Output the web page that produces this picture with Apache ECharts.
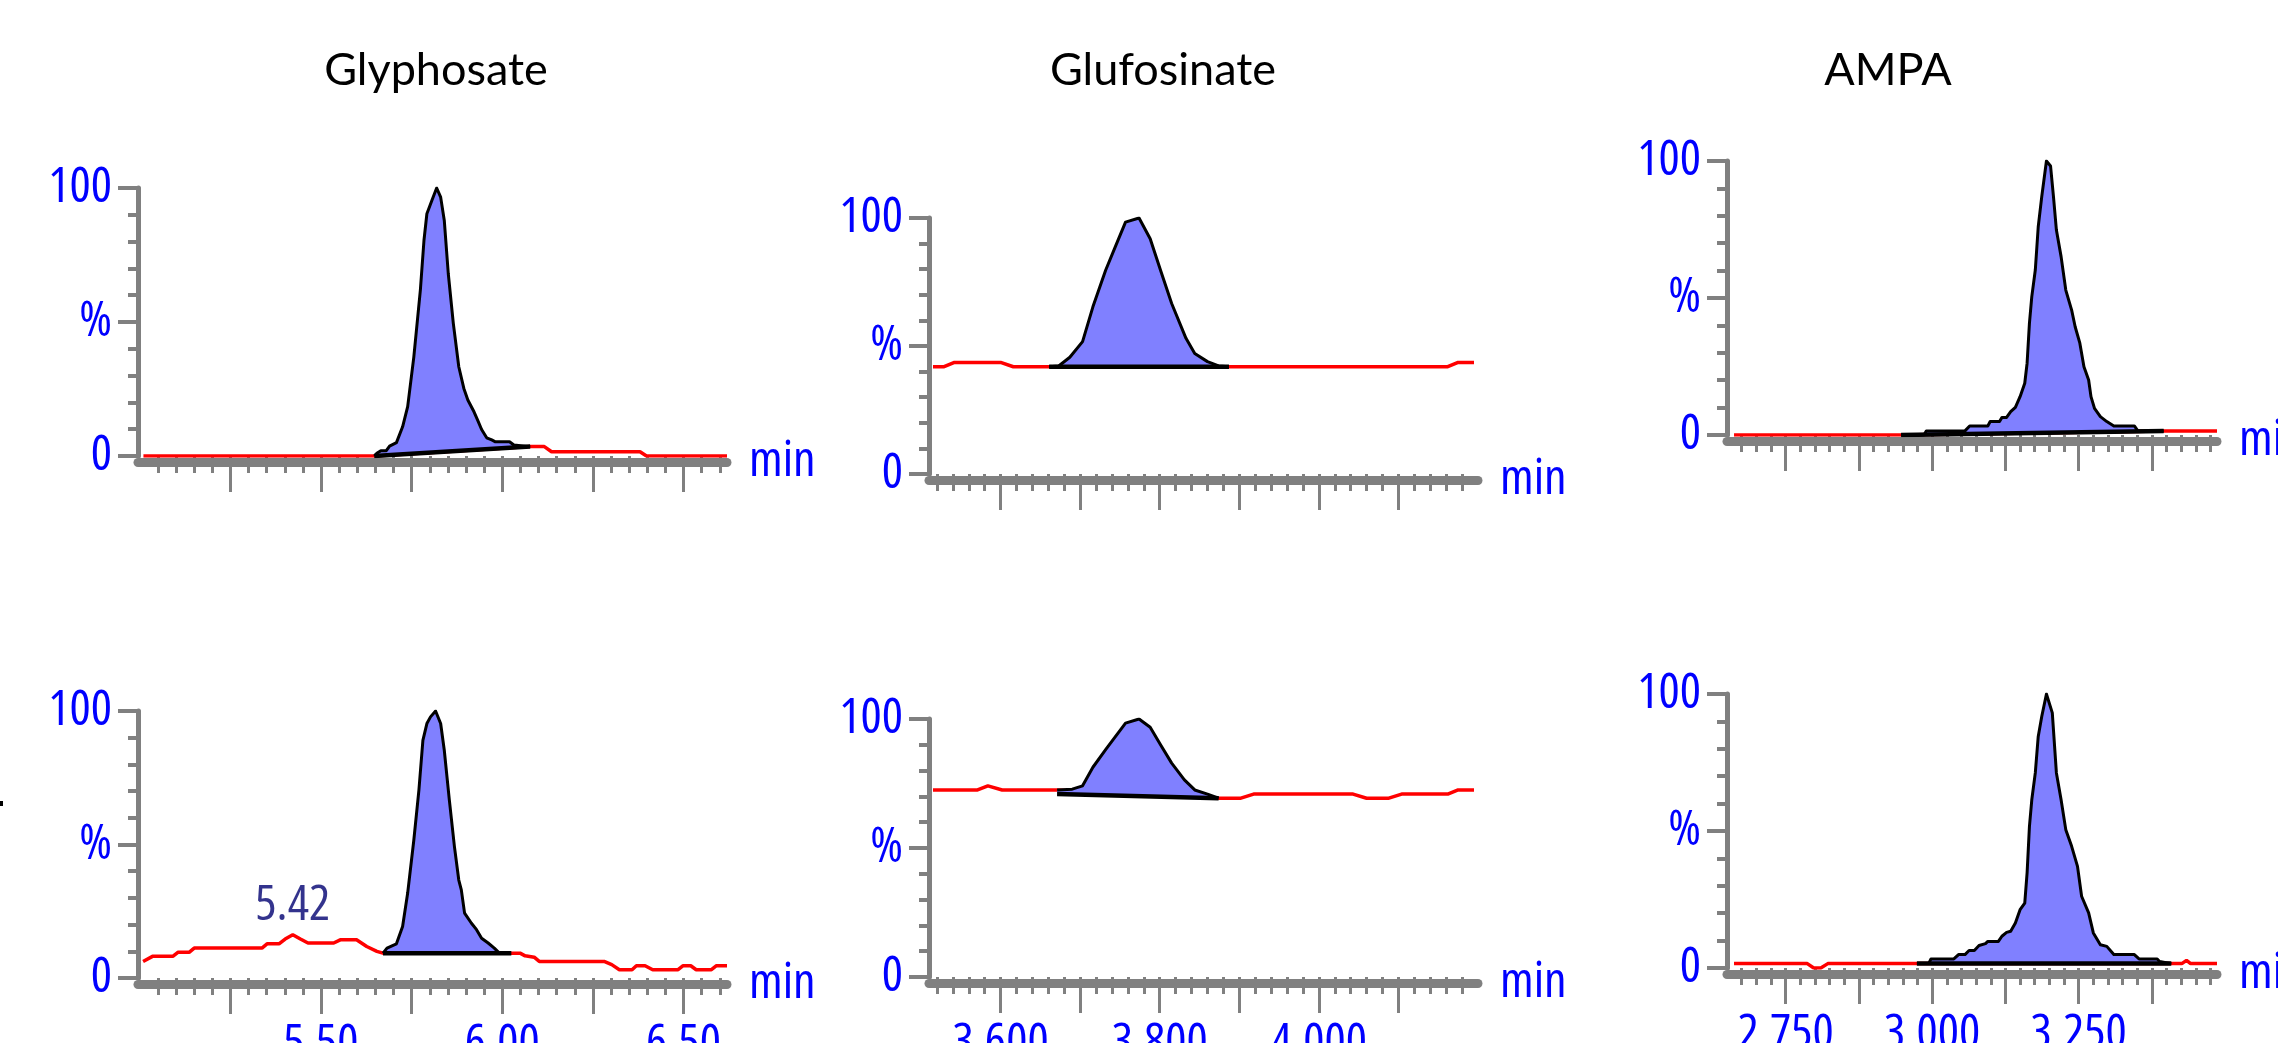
<!DOCTYPE html>
<html>
<head>
<meta charset="utf-8">
<script src="https://cdn.jsdelivr.net/npm/echarts@6/dist/echarts.min.js"></script>
<style>
html, body { margin: 0; padding: 0; background: #fff; }
#chart { width: 2278px; height: 1043px; }
</style>
</head>
<body>
<div id="chart"></div>
<script>
// ---- data (time in min, intensity in %) ----
var titles = ['Glyphosate', 'Glufosinate', 'AMPA'];
var yTickLabels = { 0: '0', 50: '%', 100: '100' };

// Glyphosate
var glyRange = [4.995, 6.62];
var glyMajor = [5.25, 5.5, 5.75, 6.0, 6.25, 6.5];
var glyLabels = [5.5, 6.0, 6.5];
var glyTopTrace = [[5.01, 0], [5.647, 0], [6.077, 3.5], [6.116, 3.5], [6.136, 1.6], [6.380, 1.6], [6.398, 0], [6.62, 0]];
var glyTopPeak = [[5.647, 0], [5.654, 1.0], [5.665, 2.0], [5.680, 2.0], [5.689, 3.7], [5.708, 5.0], [5.725, 10.9], [5.739, 18.4],
  [5.756, 37.0], [5.774, 61.9], [5.784, 80.5], [5.792, 90.4], [5.806, 95.4], [5.819, 100], [5.830, 96.6], [5.840, 87.9],
  [5.851, 68.1], [5.865, 49.4], [5.880, 33.3], [5.894, 25.2], [5.905, 20.9], [5.922, 16.5], [5.932, 13.4], [5.943, 9.9],
  [5.957, 6.8], [5.971, 6.0], [5.981, 5.3], [6.020, 5.3], [6.032, 4.1], [6.077, 3.5]];
var glyTopBase = [[5.647, 0], [6.077, 3.5]];
var glyBotTrace = [[5.009, 6.2], [5.035, 8.1], [5.091, 8.1], [5.105, 9.6], [5.136, 9.6], [5.150, 11.2], [5.337, 11.2], [5.351, 12.8],
  [5.384, 12.8], [5.401, 14.6], [5.422, 16.2], [5.443, 14.6], [5.464, 13.1], [5.535, 13.1], [5.553, 14.3], [5.598, 14.3],
  [5.626, 11.8], [5.654, 10.0], [5.671, 9.3], [6.025, 9.3], [6.049, 9.3], [6.063, 8.3], [6.088, 7.8], [6.102, 6.2],
  [6.281, 6.2], [6.302, 5.0], [6.323, 3.1], [6.358, 3.1], [6.370, 4.6], [6.394, 4.6], [6.415, 3.1], [6.485, 3.1],
  [6.499, 4.6], [6.520, 4.6], [6.535, 3.1], [6.577, 3.1], [6.591, 4.6], [6.62, 4.6]];
var glyBotPeak = [[5.671, 9.3], [5.682, 11.2], [5.708, 12.8], [5.725, 19.3], [5.739, 31.8], [5.756, 51.7], [5.770, 70.4],
  [5.781, 89.0], [5.792, 95.3], [5.802, 97.8], [5.816, 100], [5.830, 95.3], [5.840, 85.3], [5.854, 66.6], [5.868, 49.2],
  [5.880, 36.7], [5.887, 33.0], [5.896, 24.3], [5.915, 20.5], [5.929, 18.1], [5.943, 14.9], [5.961, 13.1], [5.978, 11.2],
  [5.992, 9.3]];
var glyBotBase = [[5.671, 9.3], [6.025, 9.3]];
var glyBotApex = [[5.422, 16.2]];
var glyBotApexLabel = ['5.42'];

// Glufosinate
var gluRange = [3.51, 4.2];
var gluMajor = [3.6, 3.7, 3.8, 3.9, 4.0, 4.1];
var gluLabels = [3.6, 3.8, 4.0];
var gluTopTrace = [[3.515, 41.9], [3.529, 41.9], [3.542, 43.6], [3.600, 43.6], [3.616, 41.9], [3.661, 41.9], [3.887, 41.9],
  [4.162, 41.9], [4.175, 43.6], [4.195, 43.6]];
var gluTopPeak = [[3.661, 41.9], [3.673, 42.2], [3.687, 45.6], [3.703, 51.7], [3.716, 65.3], [3.732, 79.6], [3.745, 89.4],
  [3.757, 98.4], [3.774, 100], [3.788, 91.9], [3.801, 79.6], [3.815, 66.6], [3.833, 53.0], [3.844, 47.1], [3.860, 43.9],
  [3.874, 42.2], [3.887, 41.9]];
var gluTopBase = [[3.661, 41.9], [3.887, 41.9]];
var gluBotTrace = [[3.515, 72.5], [3.571, 72.5], [3.584, 74.1], [3.602, 72.5], [3.671, 72.5], [3.874, 69.3], [3.902, 69.3],
  [3.918, 70.9], [4.043, 70.9], [4.060, 69.3], [4.088, 69.3], [4.104, 70.9], [4.162, 70.9], [4.175, 72.5], [4.195, 72.5]];
var gluBotPeak = [[3.671, 72.5], [3.690, 72.8], [3.703, 74.1], [3.716, 81.3], [3.732, 88.1], [3.757, 98.4], [3.774, 100],
  [3.788, 96.8], [3.801, 90.0], [3.815, 82.9], [3.831, 76.4], [3.844, 72.5], [3.860, 70.9], [3.874, 69.3]];
var gluBotBase = [[3.671, 70.9], [3.874, 69.3]];

// AMPA
var ampaRange = [2.65, 3.486];
var ampaMajor = [2.75, 2.875, 3.0, 3.125, 3.25, 3.375];
var ampaLabels = [2.75, 3.0, 3.25];
var ampaTopTrace = [[2.662, 0], [2.947, 0], [3.395, 1.5], [3.486, 1.5]];
var ampaTopPeak = [[2.947, 0], [2.986, 0], [2.990, 1.5], [3.056, 1.5], [3.064, 3.3], [3.095, 3.3], [3.099, 4.9], [3.115, 4.9],
  [3.119, 6.4], [3.127, 6.4], [3.134, 8.5], [3.142, 10.1], [3.150, 14.0], [3.158, 18.9], [3.162, 26.2], [3.166, 40.8],
  [3.170, 50.5], [3.176, 60.2], [3.181, 76.0], [3.187, 87.0], [3.195, 100], [3.202, 98.2], [3.207, 87.0], [3.212, 74.8],
  [3.220, 65.1], [3.228, 52.9], [3.238, 45.6], [3.244, 39.5], [3.252, 33.5], [3.259, 24.9], [3.267, 20.1], [3.271, 14.0],
  [3.277, 9.7], [3.287, 6.7], [3.298, 4.9], [3.310, 3.3], [3.345, 3.3], [3.351, 1.5], [3.395, 1.5]];
var ampaTopBase = [[2.947, 0], [3.395, 1.5]];
var ampaBotTrace = [[2.662, 1.6], [2.787, 1.6], [2.798, 0], [2.810, 0], [2.822, 1.6], [2.974, 1.6], [3.408, 1.6], [3.426, 1.6],
  [3.434, 2.8], [3.441, 1.6], [3.486, 1.6]];
var ampaBotPeak = [[2.974, 1.6], [2.994, 1.6], [2.998, 3.3], [3.037, 3.3], [3.045, 4.9], [3.056, 4.9], [3.063, 6.4], [3.072, 6.4],
  [3.080, 8.2], [3.091, 8.9], [3.095, 9.7], [3.113, 9.7], [3.119, 11.6], [3.127, 13.0], [3.134, 13.4], [3.142, 16.4],
  [3.150, 21.3], [3.158, 23.7], [3.162, 34.7], [3.166, 51.7], [3.170, 61.4], [3.176, 71.2], [3.181, 84.5], [3.187, 91.8],
  [3.195, 100], [3.205, 93.1], [3.212, 71.2], [3.220, 61.4], [3.228, 50.5], [3.238, 44.4], [3.248, 37.1], [3.255, 26.2],
  [3.267, 20.1], [3.275, 12.8], [3.287, 8.5], [3.298, 7.9], [3.310, 4.9], [3.345, 4.9], [3.353, 3.3], [3.384, 3.3],
  [3.388, 2.4], [3.408, 1.6]];
var ampaBotBase = [[2.974, 1.6], [3.408, 1.6]];

// minor tick positions along the time axis
function ticks(from, to, step) {
  var out = [];
  var n = Math.round((to - from) / step);
  for (var k = 0; k <= n; k++) out.push(+(from + k * step).toFixed(4));
  return out;
}
var glyMinor = ticks(5.05, 6.60, 0.05);
var gluMinor = ticks(3.52, 4.18, 0.02);
var ampaMinor = ticks(2.675, 3.475, 0.025);

// ---- styles ----
// Open Sans is variable; "condensed" in the weight slot ends up in the canvas font string
var NARROW = { fontFamily: '"Open Sans"', fontWeight: 'normal condensed', fontSize: 50 };
var BLUE = '#0000FF';
var GREY = '#808080';

function narrow(extra) {
  var o = { fontFamily: NARROW.fontFamily, fontWeight: NARROW.fontWeight, fontSize: NARROW.fontSize };
  for (var k in extra) o[k] = extra[k];
  return o;
}

var grids = [], xAxes = [], yAxes = [], series = [];

function addPanel(p) {
  var i = grids.length;
  grids.push({ left: p.box[0], top: p.box[1], width: p.box[2], height: p.box[3], outerBoundsMode: 'none', containLabel: false });

  xAxes.push({
    gridIndex: i, type: 'value', min: p.range[0], max: p.range[1], position: 'bottom', offset: 6,
    axisLine: { show: true, onZero: false, lineStyle: { color: GREY, width: 9 } },
    axisTick: { show: true, customValues: p.major, length: 30, lineStyle: { color: GREY, width: 3 } },
    axisLabel: narrow({
      show: p.showLabels, customValues: p.labels, margin: 36, color: BLUE,
      formatter: function (v) { return v.toFixed(p.dec); }
    }),
    splitLine: { show: false },
    name: 'min', nameLocation: 'end', nameGap: 22,
    nameTextStyle: narrow({ color: BLUE, verticalAlign: 'middle', padding: [22, 0, 0, 0] })
  });
  xAxes.push({
    gridIndex: i, type: 'value', min: p.range[0], max: p.range[1], position: 'bottom', offset: 6,
    axisLine: { show: false },
    axisTick: { show: true, customValues: p.minor, length: 17, lineStyle: { color: GREY, width: 3 } },
    axisLabel: { show: false },
    splitLine: { show: false }
  });
  yAxes.push({
    gridIndex: i, type: 'value', min: 0, max: 100, interval: 50, position: 'left',
    axisLine: { show: true, onZero: false, lineStyle: { color: GREY, width: 5 } },
    axisTick: { show: true, length: 20, lineStyle: { color: GREY, width: 4 } },
    minorTick: { show: true, splitNumber: 5, length: 10, lineStyle: { color: GREY, width: 4 } },
    axisLabel: narrow({
      margin: 26, color: BLUE,
      formatter: function (v) { return yTickLabels[v]; }
    }),
    splitLine: { show: false }
  });

  var xi = 2 * i;
  series.push({
    type: 'line', xAxisIndex: xi, yAxisIndex: i, data: p.trace, symbol: 'none', z: 2,
    lineStyle: { color: '#FF0000', width: 3.5 }
  });
  var poly = p.peak.concat([p.base[1], p.base[0]]);
  series.push({
    type: 'custom', xAxisIndex: xi, yAxisIndex: i, data: poly, z: 3,
    renderItem: function (params, api) {
      if (params.dataIndex !== 0) return null;
      return {
        type: 'polygon',
        shape: { points: poly.map(function (pt) { return api.coord(pt); }) },
        style: { fill: '#8080FF' }
      };
    }
  });
  series.push({
    type: 'line', xAxisIndex: xi, yAxisIndex: i, data: p.peak, symbol: 'none', z: 4,
    lineStyle: { color: '#000', width: 3, join: 'round' }
  });
  series.push({
    type: 'line', xAxisIndex: xi, yAxisIndex: i, data: p.base, symbol: 'none', z: 5,
    lineStyle: { color: '#000', width: 4.5 }
  });
  if (p.apex) {
    series.push({
      type: 'scatter', xAxisIndex: xi, yAxisIndex: i, data: p.apex, symbolSize: 0, z: 6,
      label: narrow({
        show: true, position: 'top', distance: 4, color: '#000070',
        formatter: function (prm) { return p.apexLabel[prm.dataIndex]; }
      })
    });
  }
}

addPanel({ box: [138, 188, 589, 268], range: glyRange, major: glyMajor, minor: glyMinor, labels: glyLabels, dec: 2, showLabels: false,
  trace: glyTopTrace, peak: glyTopPeak, base: glyTopBase });
addPanel({ box: [138, 711, 589, 267], range: glyRange, major: glyMajor, minor: glyMinor, labels: glyLabels, dec: 2, showLabels: true,
  trace: glyBotTrace, peak: glyBotPeak, base: glyBotBase, apex: glyBotApex, apexLabel: glyBotApexLabel });
addPanel({ box: [929, 218, 549, 256], range: gluRange, major: gluMajor, minor: gluMinor, labels: gluLabels, dec: 3, showLabels: false,
  trace: gluTopTrace, peak: gluTopPeak, base: gluTopBase });
addPanel({ box: [929, 719, 549, 258], range: gluRange, major: gluMajor, minor: gluMinor, labels: gluLabels, dec: 3, showLabels: true,
  trace: gluBotTrace, peak: gluBotPeak, base: gluBotBase });
addPanel({ box: [1727, 161, 490, 274], range: ampaRange, major: ampaMajor, minor: ampaMinor, labels: ampaLabels, dec: 3, showLabels: false,
  trace: ampaTopTrace, peak: ampaTopPeak, base: ampaTopBase });
addPanel({ box: [1727, 694, 490, 274], range: ampaRange, major: ampaMajor, minor: ampaMinor, labels: ampaLabels, dec: 3, showLabels: true,
  trace: ampaBotTrace, peak: ampaBotPeak, base: ampaBotBase });

var titleCenters = [431, 1158, 1883];
var myChart = echarts.init(document.getElementById('chart'));
myChart.setOption({
  animation: false,
  backgroundColor: '#fff',
  title: titles.map(function (t, k) {
    return {
      text: t, left: titleCenters[k], top: 43, textAlign: 'center',
      textStyle: { fontFamily: 'Lato', fontSize: 45, fontWeight: 'normal', color: '#000' }
    };
  }),
  graphic: [{ type: 'rect', shape: { x: 0, y: 801, width: 3, height: 5 }, style: { fill: '#000' } }],
  grid: grids,
  xAxis: xAxes,
  yAxis: yAxes,
  series: series
});
</script>
</body>
</html>
